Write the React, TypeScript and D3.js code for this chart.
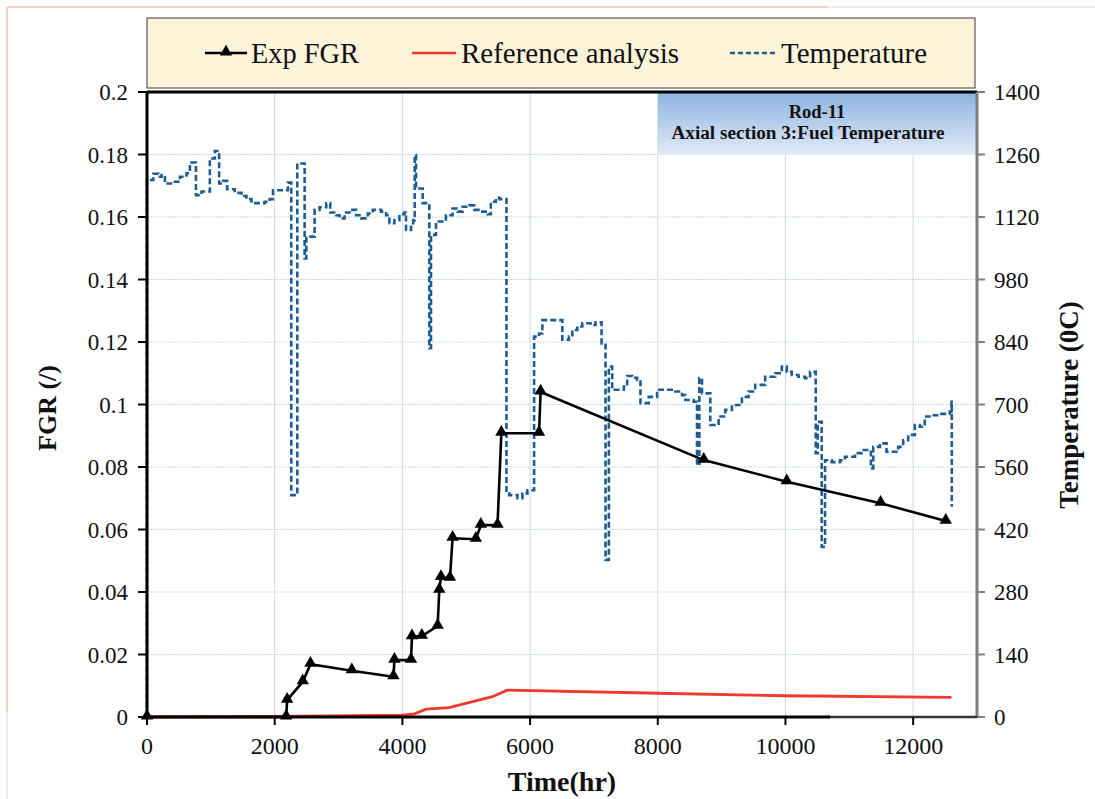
import React from "react";
import * as d3 from "d3";

// ---------- data ----------
const fgrTime = [0, 2180, 2195, 2440, 2560, 3208, 3860, 3875, 4135, 4150, 4305, 4552, 4578, 4604, 4745, 4786, 5151, 5229, 5490, 5550, 6140, 6165, 8720, 10020, 11490, 12510];
const fgrValue = [0, 0, 0.0054, 0.0113, 0.0169, 0.0148, 0.0129, 0.0182, 0.0182, 0.0257, 0.0259, 0.0291, 0.0406, 0.0447, 0.0444, 0.0572, 0.0569, 0.0614, 0.0614, 0.0908, 0.0908, 0.104, 0.0822, 0.0753, 0.0684, 0.0627];

const refTime = [0, 2000, 4000, 4190, 4370, 4730, 5100, 5410, 5640, 8015, 9990, 12600];
const refValue = [0, 0.0002, 0.0006, 0.001, 0.0025, 0.003, 0.0049, 0.0065, 0.0086, 0.0076, 0.0068, 0.0063];

const tempTime = [0, 0, 99, 177, 229, 281, 411, 516, 620, 672, 766, 854, 984, 1063, 1130, 1193, 1255, 1375, 1479, 1557, 1636, 1844, 1922, 1974, 2208, 2260, 2354, 2469, 2495, 2625, 2703, 2807, 2870, 2964, 3016, 3094, 3172, 3276, 3354, 3458, 3536, 3667, 3745, 3797, 3875, 3953, 4031, 4057, 4136, 4170, 4193, 4214, 4318, 4422, 4448, 4526, 4682, 4786, 4865, 4943, 5047, 5125, 5229, 5333, 5385, 5464, 5520, 5630, 5672, 5802, 5880, 5958, 6063, 6141, 6193, 6505, 6609, 6661, 6740, 6818, 6948, 7026, 7120, 7182, 7234, 7286, 7469, 7521, 7600, 7677, 7729, 7859, 7990, 8276, 8380, 8432, 8563, 8615, 8651, 8693, 8823, 8953, 9057, 9161, 9318, 9422, 9526, 9682, 9839, 9943, 10021, 10099, 10203, 10307, 10385, 10474, 10505, 10568, 10620, 10724, 10854, 10932, 11089, 11193, 11338, 11375, 11479, 11583, 11766, 11844, 11922, 12026, 12104, 12182, 12286, 12400, 12573, 12600, 12605];
const tempValue = [0, 1203, 1217, 1210, 1214, 1195, 1199, 1210, 1218, 1242, 1169, 1177, 1251, 1268, 1195, 1201, 1182, 1174, 1167, 1160, 1151, 1154, 1160, 1180, 1197, 497, 1240, 1027, 1076, 1136, 1142, 1151, 1130, 1124, 1117, 1130, 1136, 1124, 1117, 1128, 1136, 1132, 1124, 1106, 1113, 1126, 1130, 1091, 1106, 1113, 1259, 1184, 1151, 826, 1080, 1110, 1124, 1139, 1132, 1143, 1146, 1136, 1132, 1126, 1154, 1163, 1160, 501, 497, 490, 501, 508, 852, 859, 889, 845, 852, 867, 875, 882, 878, 884, 837, 352, 785, 733, 740, 764, 760, 755, 703, 717, 733, 729, 721, 710, 706, 564, 759, 725, 654, 673, 688, 699, 717, 729, 744, 762, 770, 785, 773, 766, 762, 759, 773, 591, 661, 381, 575, 571, 575, 583, 591, 598, 557, 605, 613, 594, 605, 620, 632, 654, 650, 673, 676, 679, 684, 706, 471];

const xTicks = [0, 2000, 4000, 6000, 8000, 10000, 12000];
const yLeftTicks = [0, 0.02, 0.04, 0.06, 0.08, 0.1, 0.12, 0.14, 0.16, 0.18, 0.2];
const yLeftLabels = ["0", "0.02", "0.04", "0.06", "0.08", "0.1", "0.12", "0.14", "0.16", "0.18", "0.2"];
const yRightTicks = [0, 140, 280, 420, 560, 700, 840, 980, 1120, 1260, 1400];

const legendLabels = ["Exp FGR", "Reference analysis", "Temperature"];
const boxTitle = ["Rod-11", "Axial section 3:Fuel Temperature"];

// ---------- layout ----------
const W = 1095, H = 799;
const L = 147, R = 977, T = 92, B = 717;
const SERIF = "'Liberation Serif', 'Times New Roman', Times, serif";
const BLUE = "#1d5d93";
const RED = "#ee3a2c";
const ts = { fontFamily: SERIF };

export default function App() {
  const x = d3.scaleLinear().domain([0, 13000]).range([L, R]);
  const yL = d3.scaleLinear().domain([0, 0.2]).range([B, T]);
  const yR = d3.scaleLinear().domain([0, 1400]).range([B, T]);

  const fgr = fgrTime.map((t, i) => [t, fgrValue[i]] as [number, number]);
  const ref = refTime.map((t, i) => [t, refValue[i]] as [number, number]);
  const temp = tempTime.map((t, i) => [t, tempValue[i]] as [number, number]);

  const lineL = d3.line<[number, number]>().x(d => x(d[0])).y(d => yL(d[1]));
  const lineT = d3.line<[number, number]>().x(d => x(d[0])).y(d => yR(d[1])).curve(d3.curveStepAfter);
  const tri = d3.symbol(d3.symbolTriangle, 66)() as string;

  return (
    <svg width={W} height={H} style={{ position: "absolute", left: 0, top: 0, background: "#fff", fontFamily: SERIF }}>
      <defs>
        <linearGradient id="boxg" x1="0" y1="0" x2="0" y2="1">
          <stop offset="0" stopColor="#8cb3e2" />
          <stop offset="1" stopColor="#e2ebf6" />
        </linearGradient>
      </defs>
      <rect width={W} height={H} fill="#fff" />
      {/* faint frame of pasted image */}
      <line x1={7} x2={W} y1={7} y2={7} stroke="#dedede" strokeWidth={1} />
      <line x1={7} x2={828} y1={7} y2={7} stroke="#f3c9bb" strokeWidth={1.5} />
      <line x1={7} x2={7} y1={7} y2={H} stroke="#dedede" strokeWidth={1} />
      <line x1={7} x2={7} y1={7} y2={712} stroke="#f3c9bb" strokeWidth={1.5} />

      {/* grid */}
      {yLeftTicks.slice(1, -1).map(v => (
        <line key={"gh" + v} x1={L} x2={R} y1={yL(v)} y2={yL(v)} stroke="#c9d9e6" strokeWidth={1} strokeDasharray="2,1" />
      ))}
      {xTicks.slice(1).map(v => (
        <line key={"gv" + v} x1={x(v)} x2={x(v)} y1={T} y2={B} stroke="#cdd8e2" strokeWidth={1} />
      ))}

      {/* annotation box */}
      <rect x={658} y={93} width={R - 658} height={62} fill="url(#boxg)" />
      <text x={817} y={118} textAnchor="middle" fontSize={18.5} fontWeight="bold" fill="#111" style={ts}>{boxTitle[0]}</text>
      <text x={808} y={139} textAnchor="middle" fontSize={18.5} fontWeight="bold" fill="#111" style={ts} textLength={273} lengthAdjust="spacingAndGlyphs">{boxTitle[1]}</text>

      {/* temperature */}
      <path d={lineT(temp) as string} fill="none" stroke={BLUE} strokeWidth={2.6} strokeDasharray="6,3" />
      {/* reference analysis */}
      <path d={lineL(ref) as string} fill="none" stroke={RED} strokeWidth={2.8} />
      {/* exp FGR */}
      <path d={lineL(fgr) as string} fill="none" stroke="#000" strokeWidth={2.6} />
      {fgr.map((d, i) => (
        <path key={"m" + i} d={tri} transform={`translate(${x(d[0])},${yL(d[1]) - 1})`} fill="#000" />
      ))}

      {/* axes */}
      <line x1={L} x2={R} y1={T} y2={T} stroke="#000" strokeWidth={3} />
      <line x1={R} x2={R} y1={T} y2={B} stroke="#7f7f7f" strokeWidth={3} />
      <line x1={828} x2={R + 1} y1={B} y2={B} stroke="#333" strokeWidth={2.5} />
      <line x1={L} x2={830} y1={B} y2={B} stroke="#000" strokeWidth={3.2} />
      <line x1={L} x2={L} y1={T - 1} y2={B + 1} stroke="#000" strokeWidth={3} />

      {yLeftTicks.map((v, i) => (
        <g key={"yl" + v}>
          <line x1={L - 9} x2={L} y1={yL(v)} y2={yL(v)} stroke="#000" strokeWidth={2} />
          <text x={128} y={yL(v)} dy="0.35em" textAnchor="end" fontSize={23} fill="#111" style={ts}>{yLeftLabels[i]}</text>
        </g>
      ))}
      {yRightTicks.map(v => (
        <g key={"yr" + v}>
          <line x1={R} x2={R + 8} y1={yR(v)} y2={yR(v)} stroke="#7f7f7f" strokeWidth={2} />
          <text x={994} y={yR(v)} dy="0.35em" textAnchor="start" fontSize={23} fill="#111" style={ts}>{v}</text>
        </g>
      ))}
      {xTicks.map(v => (
        <g key={"xt" + v}>
          <line x1={x(v)} x2={x(v)} y1={B} y2={B + 8} stroke="#000" strokeWidth={2} />
          <text x={x(v)} y={754} textAnchor="middle" fontSize={24} fill="#111" style={ts}>{v}</text>
        </g>
      ))}

      {/* axis titles */}
      <text transform="translate(56,408) rotate(-90)" textAnchor="middle" fontSize={26} fontWeight="bold" fill="#111" style={ts}>FGR (/)</text>
      <text transform="translate(1078,405) rotate(-90)" textAnchor="middle" fontSize={27} fontWeight="bold" fill="#111" style={ts}>Temperature (0C)</text>
      <text x={562} y={791} textAnchor="middle" fontSize={28} fontWeight="bold" fill="#111" style={ts}>Time(hr)</text>

      {/* legend */}
      <rect x={147} y={18} width={828} height={70} fill="#fcf3d8" stroke="#3a3a3a" strokeWidth={1} />
      <line x1={205} x2={247} y1={53} y2={53} stroke="#000" strokeWidth={2.4} />
      <path d={tri} transform="translate(226,52)" fill="#000" />
      <text x={251} y={63} fontSize={29} fill="#111" style={ts} textLength={108} lengthAdjust="spacingAndGlyphs">{legendLabels[0]}</text>
      <line x1={412} x2={456} y1={53} y2={53} stroke={RED} strokeWidth={2.5} />
      <text x={461} y={63} fontSize={29} fill="#111" style={ts} textLength={218} lengthAdjust="spacingAndGlyphs">{legendLabels[1]}</text>
      <line x1={730} x2={778} y1={53} y2={53} stroke={BLUE} strokeWidth={2.3} strokeDasharray="5,3" />
      <text x={781} y={63} fontSize={29} fill="#111" style={ts} textLength={146} lengthAdjust="spacingAndGlyphs">{legendLabels[2]}</text>
    </svg>
  );
}
